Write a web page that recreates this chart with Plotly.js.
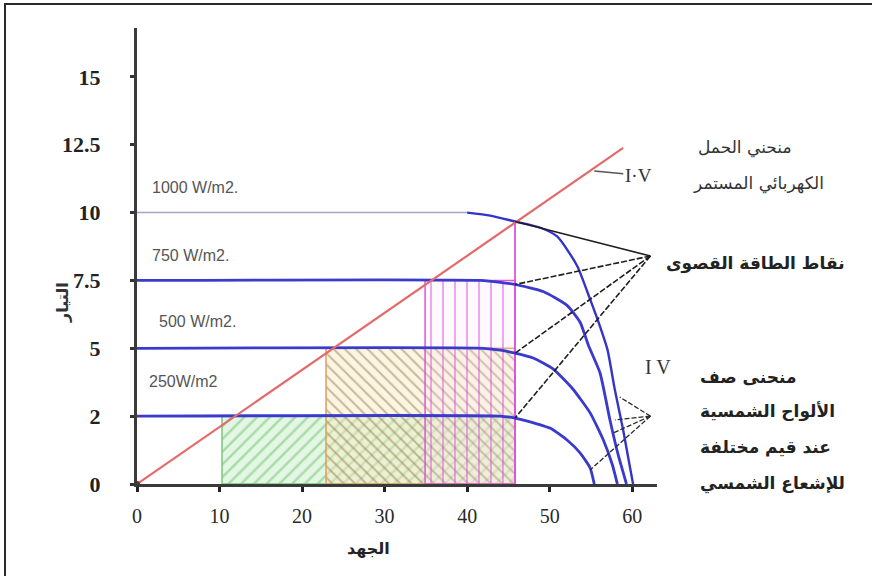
<!DOCTYPE html>
<html>
<head>
<meta charset="utf-8">
<script src="https://cdn.plot.ly/plotly-3.0.1.min.js"></script>
<style>
  html, body { margin: 0; padding: 0; background: #ffffff; }
  #wrap { position: relative; width: 872px; height: 576px; overflow: hidden; }
  #chart { width: 872px; height: 576px; }
  #frame { position: absolute; left: 4px; top: 3px; width: 900px; height: 600px;
           border-left: 2px solid #2a2a2a; border-top: 2px solid #2a2a2a; pointer-events: none; }
</style>
</head>
<body>
<div id="wrap">
  <div id="chart"></div>
  <div id="frame"></div>
</div>
<script>
// ---------- data ----------
const xTickVals = [0, 10, 20, 30, 40, 50, 60];
const yTickVals = [0, 2.5, 5, 7.5, 10, 12.5, 15];
const yTickText = ["0", "2", "5", "7.5", "10", "12.5", "15"];

const irradianceLabels = ["1000 W/m2.", "750 W/m2.", "500 W/m2.", "250W/m2"];
const labelX = [1.6, 1.6, 2.4, 1.2];
const labelY = [10.94, 8.43, 5.97, 3.76];

// I-V curves (voltage, current)
const iv1000X = [0, 40.0, 42.8, 45.8, 48.8, 50.9, 53.3, 54.9, 56.1, 57.0, 57.9, 58.9, 60.1];
const iv1000Y = [10, 10, 9.89, 9.67, 9.45, 9.12, 8.05, 6.80, 5.80, 4.95, 3.46, 1.99, 0];
const iv750X  = [0, 41.6, 44.0, 45.8, 49.2, 52.1, 53.7, 54.7, 56.1, 57.3, 58.3, 59.3];
const iv750Y  = [7.5, 7.5, 7.43, 7.35, 7.09, 6.58, 5.95, 5.10, 4.09, 2.36, 1.07, 0];
const iv500X  = [0, 42.0, 44.0, 45.8, 48.0, 50.4, 52.8, 54.9, 56.5, 57.6, 58.2];
const iv500Y  = [5, 5, 4.93, 4.82, 4.64, 4.24, 3.50, 2.62, 1.62, 0.70, 0];
const iv250X  = [0, 43.9, 45.8, 47.3, 50.1, 52.1, 53.7, 54.9, 55.4];
const iv250Y  = [2.5, 2.5, 2.43, 2.32, 2.05, 1.62, 1.14, 0.59, 0];

// DC load line
const loadX = [0, 58.9];
const loadY = [0, 12.38];

// power rectangles (250, 500, 750 W/m2) and the 1000 W/m2 MPP line
const rectLeft = [10.3, 22.9, 34.9];
const rectRight = [45.8, 45.8, 45.8];
const rectTop = [2.5, 5, 7.5];
const mpp1000LineX = [45.8, 45.8];
const mpp1000LineY = [0, 9.67];

// maximum power points and pointer lines
const mppX = [45.8, 45.8, 45.8, 45.8];
const mppY = [9.67, 7.35, 4.82, 2.43];
const tipTop = [62.2, 8.4];
const tipBottom = [62.2, 2.5];
const curveTargetX = [58.5, 57.9, 57.7, 54.9];
const curveTargetY = [3.2, 2.36, 1.88, 0.52];

// ---------- traces ----------
const traces = [];
function rect(i, fill, pattern, lineColor) {
  const l = rectLeft[i], r = rectRight[i], t = rectTop[i];
  traces.push({
    type: "scatter", mode: "lines",
    x: [l, r, r, l, l], y: [0, 0, t, t, 0],
    fill: "toself", fillcolor: fill, fillpattern: pattern,
    line: { color: lineColor, width: 1.5 }, hoverinfo: "skip"
  });
}
rect(0, "rgba(205,240,205,0.55)", { shape: "/", fgcolor: "#6cbf6c", size: 9, solidity: 0.28, fillmode: "overlay" }, "#7cc47c");
rect(1, "rgba(248,234,190,0.45)", { shape: "\\", fgcolor: "#8f7a50", size: 8, solidity: 0.24, fillmode: "overlay" }, "#d8a060");
rect(2, "rgba(250,225,250,0.2)", { shape: "|", fgcolor: "#dd4fdd", size: 12, solidity: 0.16, fillmode: "overlay" }, "#dd55dd");

traces.push({ type: "scatter", mode: "lines", x: mpp1000LineX, y: mpp1000LineY,
  line: { color: "#dd55dd", width: 1.8 }, hoverinfo: "skip" });

// 1000 W/m2 flat part (light) + knee (blue)
traces.push({ type: "scatter", mode: "lines", x: iv1000X.slice(0, 2), y: iv1000Y.slice(0, 2),
  line: { color: "#a4a4c4", width: 1.6 }, hoverinfo: "skip" });
traces.push({ type: "scatter", mode: "lines", x: iv1000X.slice(1), y: iv1000Y.slice(1),
  line: { color: "#3434c8", width: 2.4, shape: "spline", smoothing: 0.6 }, hoverinfo: "skip" });

[[iv750X, iv750Y], [iv500X, iv500Y], [iv250X, iv250Y]].forEach(function (c) {
  traces.push({ type: "scatter", mode: "lines", x: c[0], y: c[1],
    line: { color: "#3a3acc", width: 2.8, shape: "spline", smoothing: 0.5 }, hoverinfo: "skip" });
});

// load line
traces.push({ type: "scatter", mode: "lines", x: loadX, y: loadY,
  line: { color: "#e46a6a", width: 2.2 }, hoverinfo: "skip" });
traces.push({ type: "scatter", mode: "markers", x: [loadX[0]], y: [loadY[0]],
  marker: { color: "#8a2020", size: 6 }, hoverinfo: "skip", cliponaxis: false });

// pointer lines to the maximum power points
for (let i = 0; i < mppX.length; i++) {
  traces.push({ type: "scatter", mode: "lines", x: [tipTop[0], mppX[i]], y: [tipTop[1], mppY[i]],
    line: { color: "#1e1e1e", width: 1.6, dash: i === 0 ? "solid" : "6px,2px" }, hoverinfo: "skip" });
}
// pointer lines to the I-V curves
for (let i = 0; i < curveTargetX.length; i++) {
  traces.push({ type: "scatter", mode: "lines", x: [tipBottom[0], curveTargetX[i]], y: [tipBottom[1], curveTargetY[i]],
    line: { color: "#2a2a2a", width: 1.3, dash: "5px,2px" }, hoverinfo: "skip" });
}

// ---------- annotations ----------
const arFont = "DejaVu Sans, Noto Sans, sans-serif";
function px(x) { return (x - 137) / 520; }
function py(y) { return (484 - y) / 456; }
const annotations = [];
irradianceLabels.forEach(function (t, i) {
  annotations.push({ x: labelX[i], y: labelY[i], xref: "x", yref: "y", text: t, showarrow: false,
    xanchor: "left", yanchor: "middle", font: { family: "Liberation Sans, Arial, sans-serif", size: 16, color: "#555" } });
});
// I-V label with leader
annotations.push({ x: 55.4, y: 11.53, xref: "x", yref: "y", text: "I·V", showarrow: true,
  arrowhead: 0, arrowwidth: 1.6, arrowcolor: "#555", ax: 44, ay: 4, standoff: 0,
  font: { family: "Liberation Serif, serif", size: 19, color: "#333" } });
function note(text, cx, cy, size, color, anchor) {
  annotations.push({ x: px(cx), y: py(cy), xref: "paper", yref: "paper", text: text, showarrow: false,
    xanchor: anchor || "center", yanchor: "middle", font: { family: arFont, size: size, color: color } });
}
note("منحني الحمل", 745, 147, 17, "#333");
note("الكهربائي المستمر", 758, 183, 17, "#333");
note("<b>نقاط الطاقة القصوى</b>", 755, 263, 17, "#222");
annotations.push({ x: px(658), y: py(367), xref: "paper", yref: "paper", text: "I V", showarrow: false,
  xanchor: "center", yanchor: "middle", font: { family: "Liberation Serif, serif", size: 20, color: "#333" } });
const blockLines = ["منحنى صف", "الألواح الشمسية", "عند قيم مختلفة", "للإشعاع الشمسي"];
const blockPy = [377, 411, 447, 483];
blockLines.forEach(function (t, i) {
  note("<b>" + t + "</b>", 698, blockPy[i], 17, "#222", "left");
});
note("<b>الجهد</b>", 368, 548, 16, "#222");
annotations.push({ x: px(62), y: py(303), xref: "paper", yref: "paper", text: "<b>التيار</b>",
  showarrow: false, textangle: -90, xanchor: "center", yanchor: "middle",
  font: { family: arFont, size: 16, color: "#333" } });

const layout = {
  width: 872, height: 576,
  margin: { l: 137, r: 215, t: 28, b: 92 },
  paper_bgcolor: "#ffffff", plot_bgcolor: "#ffffff",
  showlegend: false, hovermode: false,
  xaxis: {
    range: [0, 63], tickvals: xTickVals, ticktext: xTickVals.map(String),
    showgrid: false, zeroline: false, showline: true, linecolor: "#3a3a3a", linewidth: 3,
    ticks: "outside", ticklen: 5, tickwidth: 3, tickcolor: "#222", ticklabelstandoff: 7,
    tickfont: { family: "Liberation Serif, serif", size: 20, color: "#2a2a2a" }
  },
  yaxis: {
    range: [0, 16.8], tickvals: yTickVals, ticktext: yTickText,
    showgrid: false, zeroline: false, showline: true, linecolor: "#3a3a3a", linewidth: 3,
    ticks: "outside", ticklen: 4, tickwidth: 3, tickcolor: "#333", ticklabelstandoff: 25,
    tickfont: { family: "Liberation Serif, serif", size: 22, color: "#222", weight: "bold" }
  },
  annotations: annotations
};

Plotly.newPlot("chart", traces, layout, { staticPlot: true, displayModeBar: false });
</script>
</body>
</html>
